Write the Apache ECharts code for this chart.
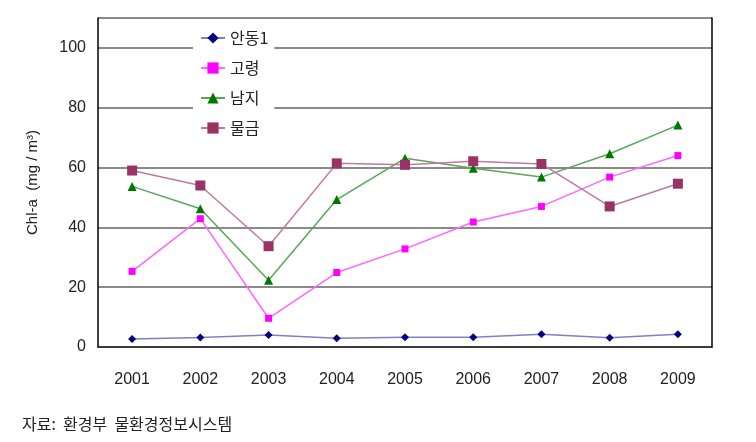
<!DOCTYPE html>
<html>
<head>
<meta charset="utf-8">
<script src="https://cdn.jsdelivr.net/npm/echarts@6/dist/echarts.min.js"></script>
<style>
html,body{margin:0;padding:0;background:#fff;}
#c{width:756px;height:442px;}
</style>
</head>
<body>
<div id="c"></div>
<script>
const years = ['2001','2002','2003','2004','2005','2006','2007','2008','2009'];
const andong = [2.7, 3.2, 4.0, 2.9, 3.3, 3.3, 4.3, 3.1, 4.3];
const goryeong = [25.3, 42.9, 9.6, 24.9, 32.8, 41.8, 47.0, 56.8, 64.0];
const namji = [53.7, 46.2, 22.3, 49.3, 63.1, 59.8, 56.8, 64.6, 74.2];
const mulgeum = [59.0, 54.0, 33.7, 61.4, 60.9, 62.1, 61.2, 47.0, 54.6];
const seriesNames = ['안동1', '고령', '남지', '물금'];
const yAxisName = 'Chl-a  (mg / m³)';
const sourceText = '자료:  환경부  물환경정보시스템';

const chart = echarts.init(document.getElementById('c'));
const numFont = '"Liberation Sans Narrow", "Liberation Sans", Arial, sans-serif';
const krFont = '"Noto Sans CJK KR", sans-serif';

function mk(name, data, lineColor, markColor, symbol, size) {
  return {
    name: name, type: 'line', data: data,
    symbol: symbol, symbolSize: size,
    lineStyle: { color: lineColor, width: 1.5 },
    itemStyle: { color: markColor },
    animation: false
  };
}

chart.setOption({
  animation: false,
  grid: { left: 98, right: 44, top: 18, bottom: 95 },
  legend: {
    orient: 'vertical', left: 193, top: 22,
    backgroundColor: '#fff',
    padding: [8, 6, 8, 7],
    itemWidth: 24, itemHeight: 14, itemGap: 14,
    textStyle: { fontFamily: krFont, fontSize: 16, color: '#222' },
    data: seriesNames
  },
  xAxis: {
    type: 'category', data: years, boundaryGap: true,
    axisLine: { lineStyle: { color: '#222', width: 1.5 } },
    axisTick: { inside: true, length: 6, lineStyle: { color: '#000' } },
    axisLabel: { fontFamily: numFont, fontSize: 16, color: '#222', margin: 25 }
  },
  yAxis: [{
    type: 'value', min: 0, max: 110, interval: 20,
    name: yAxisName, nameLocation: 'middle', nameGap: 58,
    nameTextStyle: { fontFamily: numFont, fontSize: 15, color: '#222' },
    axisLine: { show: true, lineStyle: { color: '#000', width: 1.5 } },
    axisTick: { show: false },
    axisLabel: {
      fontFamily: numFont, fontSize: 16, color: '#222', margin: 12,
      formatter: function (v) { return v > 100 ? '' : String(v); }
    },
    splitLine: { show: true, lineStyle: { color: '#8a8a8a', width: 2 } }
  }, {
    type: 'value', min: 0, max: 110, position: 'right',
    axisLine: { show: true, lineStyle: { color: '#000', width: 1.5 } },
    axisTick: { show: false }, axisLabel: { show: false }, splitLine: { show: false }
  }],
  graphic: [{
    type: 'text', left: 22, top: 416,
    style: { text: sourceText, font: '16px ' + krFont, fill: '#222' }
  }],
  series: [
    mk(seriesNames[0], andong, '#8080c4', '#000080', 'diamond', 8),
    mk(seriesNames[1], goryeong, '#ff66ff', '#ff00ff', 'rect', 7),
    mk(seriesNames[2], namji, '#5aa55a', '#007700', 'triangle', 9),
    mk(seriesNames[3], mulgeum, '#c07a9a', '#993366', 'rect', 10)
  ]
});
</script>
</body>
</html>
